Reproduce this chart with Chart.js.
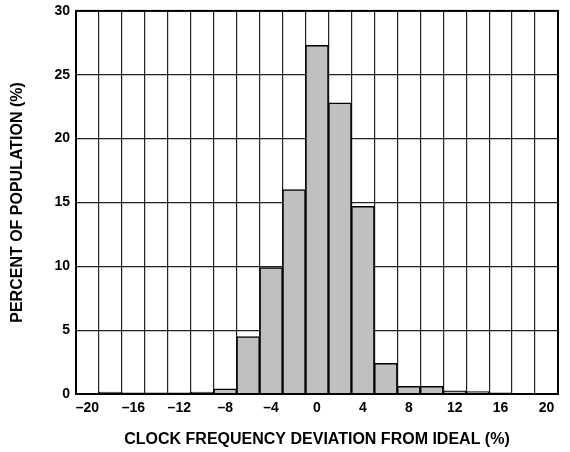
<!DOCTYPE html>
<html>
<head>
<meta charset="utf-8">
<script src="https://cdn.jsdelivr.net/npm/chart.js@4/dist/chart.umd.min.js"></script>
<style>
    html, body { margin: 0; padding: 0; background: #fff; }
    #wrap { width: 570px; height: 452px; }
</style>
</head>
<body>
<div id="wrap"><canvas id="chart" width="570" height="452"></canvas></div>
<script>
// Histogramm-Daten
let deviation = [-20, -18, -16, -14, -12, -10, -8, -6, -4, -2, 0, 2, 4, 6, 8, 10, 12, 14, 16, 18, 20];
let percent = [0, 0.15, 0.1, 0.1, 0.1, 0.15, 0.4, 4.5, 9.9, 16.0, 27.3, 22.8, 14.7, 2.4, 0.6, 0.6, 0.25, 0.18, 0.1, 0.05, 0.05];
let yTicks = [0, 5, 10, 15, 20, 25, 30];

let fontFamily = "Arial, 'Liberation Sans', Helvetica, sans-serif";

function labelText(v) {
    /*
        Negative Zahlen mit Gedankenstrich wie im Original.
     */
    return v < 0 ? '\u2013' + Math.abs(v) : String(v);
}

let frame = {
    id: 'frame',
    afterDraw: function (chart) {
        // Rahmen um die Zeichenfläche
        let a = chart.chartArea;
        let ctx = chart.ctx;
        ctx.save();
        ctx.strokeStyle = '#000';
        ctx.lineWidth = 2;
        ctx.strokeRect(a.left, a.top, a.right - a.left, a.bottom - a.top);
        ctx.restore();
    }
};

new Chart(document.getElementById('chart').getContext('2d'), {
    type: 'bar',
    data: {
        labels: deviation.map(labelText),
        datasets: [{
            data: percent,
            backgroundColor: '#c0c0c0',
            borderColor: '#000',
            borderWidth: 1.5,
            barPercentage: 1,
            categoryPercentage: 1
        }]
    },
    options: {
        responsive: false,
        animation: false,
        layout: { padding: { top: 0, right: 12, left: 8, bottom: 0 } },
        plugins: { legend: { display: false }, tooltip: { enabled: false } },
        scales: {
            x: {
                offset: true,
                grid: { offset: true, color: '#222', lineWidth: 1.2, drawTicks: false },
                border: { display: false },
                ticks: {
                    autoSkip: false,
                    maxRotation: 0,
                    padding: 6,
                    color: '#000',
                    font: { family: fontFamily, size: 14, weight: 'bold' },
                    callback: function (value, index) {
                        return deviation[index] % 4 === 0 ? labelText(deviation[index]) : '';
                    }
                },
                title: {
                    display: true,
                    text: 'CLOCK FREQUENCY DEVIATION FROM IDEAL (%)',
                    color: '#000',
                    font: { family: fontFamily, size: 16, weight: 'bold' },
                    padding: { top: 4, bottom: 3 }
                },
                afterFit: function (scale) { scale.height = 58; }
            },
            y: {
                min: 0,
                max: 30,
                afterBuildTicks: function (scale) {
                    scale.ticks = yTicks.map(function (v) { return { value: v }; });
                },
                grid: { color: '#222', lineWidth: 1.2, drawTicks: false },
                border: { display: false },
                ticks: {
                    padding: 6,
                    color: '#000',
                    font: { family: fontFamily, size: 14, weight: 'bold', lineHeight: 0.7 }
                },
                title: {
                    display: true,
                    text: 'PERCENT OF POPULATION (%)',
                    color: '#000',
                    font: { family: fontFamily, size: 16, weight: 'bold' },
                    padding: { top: 0, bottom: 6 }
                },
                afterFit: function (scale) { scale.width = 68; }
            }
        }
    },
    plugins: [frame]
});
</script>
</body>
</html>
